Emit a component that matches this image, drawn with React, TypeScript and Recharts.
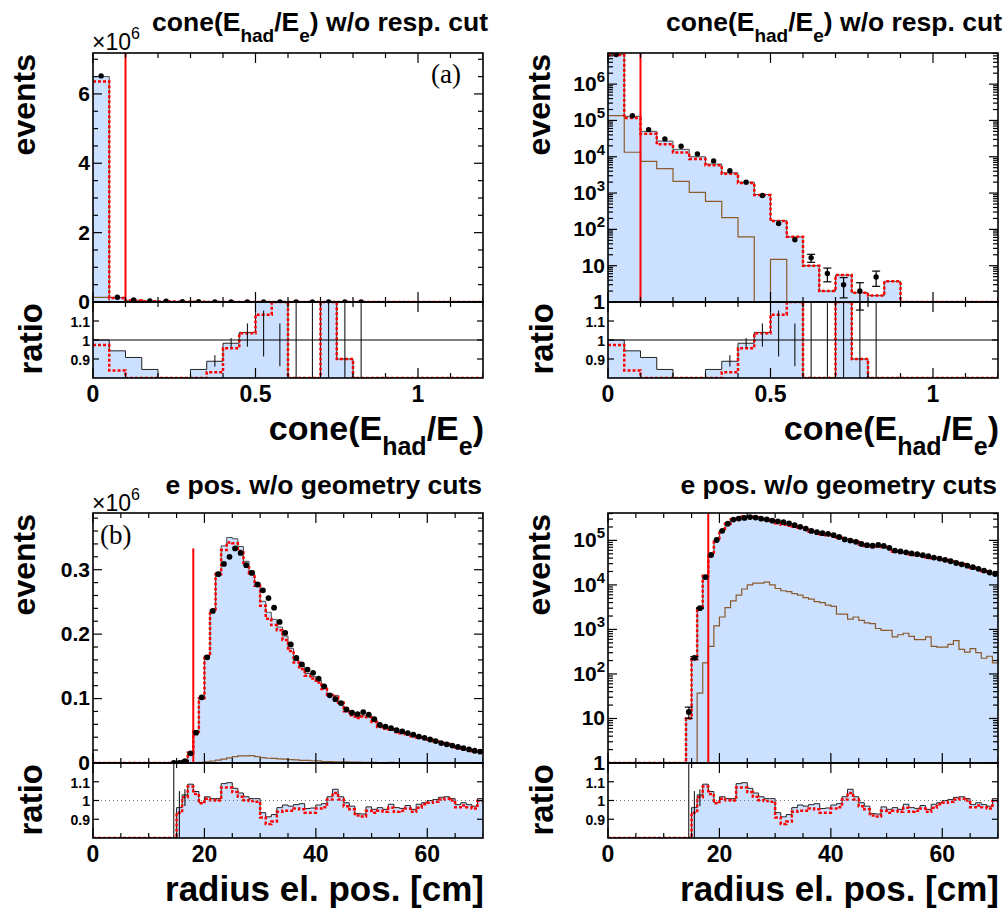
import React from "react";
import {
  ComposedChart,
  Area,
  Line,
  Scatter,
  ErrorBar,
  XAxis,
  YAxis,
  ReferenceLine,
} from "recharts";

const FONT = "'Liberation Sans', Arial, Helvetica, sans-serif";
const SERIF = "'Liberation Serif', 'DejaVu Serif', serif";
const BLUE = "#cce0ff";
const OUTLINE = "#4a4a4a";
const RED = "#ff0000";
const BROWN = "#8b5a2b";

// ---------- cone(E_had/E_e): 24 bins of 0.05 ----------
const coneEdges = [
  0, 0.05, 0.1, 0.15, 0.2, 0.25, 0.3, 0.35, 0.4, 0.45, 0.5, 0.55, 0.6, 0.65,
  0.7, 0.75, 0.8, 0.85, 0.9, 0.95, 1, 1.05, 1.1, 1.15, 1.2,
];
const coneData = [
  6520000, 135000, 56000, 31000, 19500, 12000, 7700, 4100, 2000, 860, 145, 52,
  16.5, 6.1, 3.0, 2.0, 4.9, null, null, null, null, null, null, null,
];
const coneDataErr = [
  0, 0, 0, 0, 0, 0, 0, 0, 0, 0, 0, 0, 4.1, 2.5, 1.7, 1.4, 2.2, null, null,
  null, null, null, null, null,
];
const coneMc = [
  6500000, 130000, 50000, 27000, 16000, 10000, 6300, 3600, 2000, 910, 175, 62,
  10, 2.0, 5.5, 1.8, 1.5, 3.7, 0, 0, 0, 0, 0, 0,
];
const coneAlt = [
  6360000, 116000, 43000, 22000, 13000, 8700, 5800, 3400, 1900, 890, 170, 63,
  10, 2.0, 5.5, 1.8, 1.5, 3.7, 0, 0, 0, 0, 0, 0,
];
const coneBkg = [
  135000, 13300, 7500, 4700, 2100, 1050, 590, 210, 62, 0, 15, 0, 0, 0, 0, 0, 0,
  0, 0, 0, 0, 0, 0, 0,
];
const coneRatio = [
  1.0, 0.943, 0.908, 0.845, 0.7, 0.7, 0.845, 0.888, 0.983, 1.04, 1.22, 1.25,
  0.6, 0.33, 1.8, 0.9, 0.3, 0, 0, 0, 0, 0, 0, 0,
];
const coneRatioAlt = [
  0.974, 0.84, 0.7, 0.7, 0.7, 0.7, 0.7, 0.83, 0.957, 1.035, 1.133, 1.25, 0.6,
  0.33, 1.8, 0.9, 0.3, 0, 0, 0, 0, 0, 0, 0,
];
const coneRatioErrBins = [7, 8, 9, 10, 11, 12, 13, 14, 15, 16];
const coneRatioErrLo = [0.86, 0.96, 0.965, 0.913, 0.862, 0.8, 0.8, 0.8, 0.8, 0.8];
const coneRatioErrHi = [0.92, 1.01, 1.087, 1.155, 1.087, 1.2, 1.2, 1.2, 1.2, 1.2];

const coneTicks = [0, 0.1, 0.2, 0.3, 0.4, 0.5, 0.6, 0.7, 0.8, 0.9, 1, 1.1, 1.2];
const coneMajors = [0, 0.5, 1];
const coneTickLabels = ["0", "0.5", "1"];

// ---------- radius el. pos.: 70 bins of 1 cm ----------
const radiusEdges = [
  0, 1, 2, 3, 4, 5, 6, 7, 8, 9, 10, 11, 12, 13, 14, 15, 16, 17, 18, 19, 20, 21,
  22, 23, 24, 25, 26, 27, 28, 29, 30, 31, 32, 33, 34, 35, 36, 37, 38, 39, 40,
  41, 42, 43, 44, 45, 46, 47, 48, 49, 50, 51, 52, 53, 54, 55, 56, 57, 58, 59,
  60, 61, 62, 63, 64, 65, 66, 67, 68, 69, 70,
];
const radiusData = [
  null, null, null, null, null, null, null, null, null, null, null, null, null,
  null, 14, 230, 3000, 15000, 47000, 102000, 164000, 236000, 293000, 309000,
  320000, 333000, 326000, 307000, 295000, 277000, 268000, 256000, 241000,
  219000, 202000, 184000, 163000, 153000, 145000, 140000, 131000, 119000,
  105000, 99000, 93000, 83000, 78000, 76000, 79000, 75000, 68000, 59000, 56500,
  54000, 51000, 49000, 46500, 44000, 41000, 39000, 36500, 34000, 31000, 29000,
  27000, 25000, 23000, 21000, 19000, 17500,
];
const radiusErrBins = [14, 15, 16];
const radiusErrVals = [4, 15, 55];
const radiusMc = [
  0, 0, 0, 0, 0, 0, 0, 0, 0, 0, 0, 0, 0, 0, 10.4, 220, 3090, 16300, 49300,
  101000, 167000, 238000, 296000, 337000, 350000, 348000, 336000, 313000,
  298000, 280000, 251000, 234000, 223000, 211000, 197000, 178000, 159000,
  150000, 139000, 134000, 128000, 117000, 107000, 105000, 95000, 82000, 75700,
  70700, 73300, 72500, 64800, 56800, 53800, 52900, 49100, 46900, 45200, 41900,
  40200, 38500, 36500, 34200, 31500, 29600, 27300, 24500, 22700, 20500, 18400,
  17700,
];
const radiusAlt = [
  0, 0, 0, 0, 0, 0, 0, 0, 0, 0, 0, 0, 0, 0, 10, 215, 3050, 16100, 48600,
  100500, 165600, 236500, 293000, 330600, 342400, 341000, 329000, 307600,
  294000, 275000, 244000, 224000, 214000, 206000, 191000, 174000, 156000,
  146000, 135600, 131000, 125000, 114700, 105500, 103000, 93500, 80500, 74300,
  69900, 72300, 70900, 63600, 55800, 53100, 51900, 47900, 46300, 44500, 41400,
  39400, 38200, 36100, 33800, 31200, 29300, 27000, 24100, 22400, 20200, 18200,
  17400,
];
const radiusBkg = [
  0, 0, 0, 0, 0, 0, 0, 0, 0, 0, 0, 0, 0, 0, 0, 0, 37, 178, 415, 1200, 1900,
  3100, 4400, 5900, 8100, 10000, 11000, 11000, 11500, 10000, 8300, 7400, 7100,
  6400, 5900, 5200, 4800, 4200, 4000, 3500, 3300, 2200, 2200, 1700, 1900, 1600,
  1400, 1350, 1050, 950, 950, 680, 760, 820, 700, 590, 590, 680, 415, 400, 400,
  460, 560, 355, 310, 370, 300, 225, 250, 178,
];
const radiusRatio = [
  0, 0, 0, 0, 0, 0, 0, 0, 0, 0, 0, 0, 0, 0, 0.74, 0.962, 1.03, 1.087, 1.048,
  0.99, 1.02, 1.01, 1.01, 1.09, 1.095, 1.065, 1.04, 1.02, 1.01, 1.01, 0.935,
  0.913, 0.925, 0.962, 0.976, 0.97, 0.978, 0.983, 0.957, 0.96, 0.976, 0.983,
  1.02, 1.06, 1.02, 0.988, 0.97, 0.93, 0.928, 0.966, 0.953, 0.962, 0.953, 0.98,
  0.962, 0.958, 0.973, 0.953, 0.98, 0.988, 1.0, 1.005, 1.017, 1.02, 1.01,
  0.978, 0.988, 0.978, 0.97, 1.01,
];
const radiusRatioAlt = [
  0, 0, 0, 0, 0, 0, 0, 0, 0, 0, 0, 0, 0, 0, 0.72, 0.935, 1.017, 1.075, 1.035,
  0.985, 1.01, 1.002, 1.0, 1.07, 1.07, 1.045, 1.02, 1.002, 0.997, 0.993, 0.91,
  0.875, 0.888, 0.94, 0.945, 0.945, 0.957, 0.953, 0.935, 0.935, 0.957, 0.964,
  1.005, 1.04, 1.005, 0.97, 0.953, 0.92, 0.915, 0.945, 0.935, 0.945, 0.94,
  0.962, 0.94, 0.945, 0.957, 0.94, 0.962, 0.98, 0.988, 0.993, 1.005, 1.01, 1.0,
  0.964, 0.974, 0.964, 0.957, 0.997,
];
const radiusRatioErrBins = [14, 15, 16];
const radiusRatioErrLo = [0.8, 0.8, 0.97];
const radiusRatioErrHi = [1.2, 1.05, 1.06];

const radiusMajors = [0, 20, 40, 60];
const radiusTickLabels = ["0", "20", "40", "60"];

const coneLinMajors = [0, 2000000, 4000000, 6000000];
const coneLinLabels = ["0", "2", "4", "6"];
const radiusLinMajors = [0, 100000, 200000, 300000];
const radiusLinLabels = ["0", "0.1", "0.2", "0.3"];
const ratioTicks = [0.9, 1, 1.1];
const ratioLabels = ["0.9", "1", "1.1"];

// ---------- helpers ----------
const range = (a: number, b: number, s: number) => {
  const out: number[] = [];
  for (let v = a; v <= b + s * 1e-6; v += s) out.push(+v.toFixed(6));
  return out;
};
const logTicks = (maxV: number) => {
  const out: number[] = [];
  for (let d = 1; d <= maxV; d *= 10)
    for (let m = 1; m <= 9; m++) if (m * d <= maxV) out.push(m * d);
  return out;
};
const near = (a: number, b: number) =>
  Math.abs(a - b) <= 1e-7 * Math.max(1, Math.abs(a));

const logLabel = (v: number) => {
  const e = Math.round(Math.log10(v));
  if (e === 0) return "1";
  if (e === 1) return "10";
  return (
    <>
      10
      <tspan dy={-9} fontSize={15}>
        {e}
      </tspan>
    </>
  );
};

const xTick =
  (plotH: number, majors: number[], labels: string[] | null) => (p: any) => {
    const v = p.payload.value;
    const k = majors.findIndex((m) => near(m, v));
    const len = k >= 0 ? 10 : 5;
    return (
      <g>
        <line x1={p.x} x2={p.x} y1={p.y} y2={p.y - len} stroke="#000" strokeWidth={1.2} />
        <line x1={p.x} x2={p.x} y1={p.y - plotH} y2={p.y - plotH + len} stroke="#000" strokeWidth={1.2} />
        {labels && k >= 0 ? (
          <text x={p.x} y={p.y + 24} textAnchor="middle" fontFamily={FONT} fontWeight="bold" fontSize={23}>
            {labels[k]}
          </text>
        ) : null}
      </g>
    );
  };

const yTick =
  (
    plotW: number,
    majors: number[],
    label: (v: number, k: number) => React.ReactNode,
    fontSize: number,
    dyFrac: number,
    majLen: number,
    minLen: number
  ) =>
  (p: any) => {
    const v = p.payload.value;
    const k = majors.findIndex((m) => near(m, v));
    const len = k >= 0 ? majLen : minLen;
    return (
      <g>
        <line x1={p.x} x2={p.x + len} y1={p.y} y2={p.y} stroke="#000" strokeWidth={1.2} />
        <line x1={p.x + plotW} x2={p.x + plotW - len} y1={p.y} y2={p.y} stroke="#000" strokeWidth={1.2} />
        {k >= 0 ? (
          <text x={p.x - 3} y={p.y} dy={fontSize * dyFrac} textAnchor="end" fontFamily={FONT} fontWeight="bold" fontSize={fontSize}>
            {label(v, k)}
          </text>
        ) : null}
      </g>
    );
  };

type Cfg = {
  frameL: number;
  frameT: number;
  plotW: number;
  mainH: number;
  ratioH: number;
  edges: number[];
  xTicks: number[];
  xMajors: number[];
  xLabels: string[];
  log: boolean;
  yDomain: [number, number];
  yTicks: number[];
  yMajors: number[];
  yLabel: (v: number, k: number) => React.ReactNode;
  data: (number | null)[];
  dataErr: (number | null)[];
  mc: number[];
  alt: number[];
  bkg: number[];
  ratio: number[];
  ratioAlt: number[];
  rErrBins: number[];
  rErrLo: number[];
  rErrHi: number[];
  cutX: number;
  cutTop: number | null;
  dotR: number;
  unityDotted: boolean;
};

const YW = 90;

function Panel({ cfg }: { cfg: Cfg }) {
  const n = cfg.mc.length;
  const xDomain: [number, number] = [cfg.edges[0], cfg.edges[n]];
  const f = (v: number) => (cfg.log ? (v > 1 ? v : 1) : v);
  const clampR = (v: number) => Math.min(1.2, Math.max(0.8, v));
  const mainRows = cfg.edges.map((x, i) => {
    const j = Math.min(i, n - 1);
    return { x, mc: f(cfg.mc[j]), alt: f(cfg.alt[j]), bkg: f(cfg.bkg[j]) };
  });
  const ratioRows = cfg.edges.map((x, i) => {
    const j = Math.min(i, n - 1);
    return { x, r: clampR(cfg.ratio[j]), ra: clampR(cfg.ratioAlt[j]) };
  });
  const center = (i: number) => (cfg.edges[i] + cfg.edges[i + 1]) / 2;
  const pts = cfg.data
    .map((y, i) => ({ x: center(i), y, e: cfg.dataErr[i] ?? 0 }))
    .filter((p) => p.y !== null && (p.y as number) > 0);
  const rErr = cfg.rErrBins.map((b, k) => ({
    x: center(b),
    y: (cfg.rErrLo[k] + cfg.rErrHi[k]) / 2,
    e: (cfg.rErrHi[k] - cfg.rErrLo[k]) / 2,
  }));

  return (
    <>
      <div style={{ position: "absolute", left: cfg.frameL - YW, top: cfg.frameT }}>
        <ComposedChart
          width={YW + cfg.plotW}
          height={cfg.mainH + 14}
          data={mainRows}
          margin={{ top: 0, right: 0, bottom: 0, left: 0 }}
        >
          <XAxis
            type="number"
            dataKey="x"
            domain={xDomain}
            ticks={cfg.xTicks}
            interval={0}
            tickSize={0}
            tickMargin={0}
            axisLine={false}
            tickLine={false}
            height={14}
            allowDataOverflow
            tick={xTick(cfg.mainH, cfg.xMajors, null)}
          />
          <YAxis
            type="number"
            scale={cfg.log ? "log" : "linear"}
            domain={cfg.yDomain}
            ticks={cfg.yTicks}
            interval={0}
            tickSize={0}
            tickMargin={0}
            axisLine={false}
            tickLine={false}
            width={YW}
            allowDataOverflow
            tick={yTick(cfg.plotW, cfg.yMajors, cfg.yLabel, 21, 0.33, 9, 5)}
          />
          <Area
            type="stepAfter"
            dataKey="mc"
            fill={BLUE}
            fillOpacity={1}
            stroke={OUTLINE}
            strokeWidth={1}
            dot={false}
            activeDot={false}
            isAnimationActive={false}
          />
          <Line
            type="stepAfter"
            dataKey="bkg"
            stroke={BROWN}
            strokeWidth={1.2}
            dot={false}
            activeDot={false}
            isAnimationActive={false}
          />
          <Line
            type="stepAfter"
            dataKey="alt"
            stroke={RED}
            strokeWidth={2.5}
            strokeDasharray="3 2"
            dot={false}
            activeDot={false}
            isAnimationActive={false}
          />
          {cfg.cutTop === null ? (
            <ReferenceLine x={cfg.cutX} stroke={RED} strokeWidth={2} />
          ) : (
            <ReferenceLine
              segment={[
                { x: cfg.cutX, y: cfg.yDomain[0] },
                { x: cfg.cutX, y: cfg.cutTop },
              ]}
              stroke={RED}
              strokeWidth={2}
            />
          )}
          <Scatter
            data={pts}
            dataKey="y"
            isAnimationActive={false}
            shape={(p: any) => <circle cx={p.cx} cy={p.cy} r={cfg.dotR} fill="#000" />}
          >
            <ErrorBar dataKey="e" direction="y" width={4} stroke="#000" strokeWidth={1.2} />
          </Scatter>
        </ComposedChart>
      </div>
      <div
        style={{
          position: "absolute",
          left: cfg.frameL - YW,
          top: cfg.frameT + cfg.mainH,
        }}
      >
        <ComposedChart
          width={YW + cfg.plotW}
          height={cfg.ratioH + 34}
          data={ratioRows}
          margin={{ top: 0, right: 0, bottom: 0, left: 0 }}
        >
          <XAxis
            type="number"
            dataKey="x"
            domain={xDomain}
            ticks={cfg.xTicks}
            interval={0}
            tickSize={0}
            tickMargin={0}
            axisLine={false}
            tickLine={false}
            height={34}
            allowDataOverflow
            tick={xTick(cfg.ratioH, cfg.xMajors, cfg.xLabels)}
          />
          <YAxis
            type="number"
            domain={[0.8, 1.2]}
            ticks={ratioTicks}
            interval={0}
            tickSize={0}
            tickMargin={0}
            axisLine={false}
            tickLine={false}
            width={YW}
            allowDataOverflow
            tick={yTick(cfg.plotW, ratioTicks, (_v, k) => ratioLabels[k], 14, 0.42, 6, 6)}
          />
          <Area
            type="stepAfter"
            dataKey="r"
            fill={BLUE}
            fillOpacity={1}
            stroke="#222"
            strokeWidth={1}
            dot={false}
            activeDot={false}
            isAnimationActive={false}
          />
          <Line
            type="stepAfter"
            dataKey="ra"
            stroke={RED}
            strokeWidth={2.5}
            strokeDasharray="3 2"
            dot={false}
            activeDot={false}
            isAnimationActive={false}
          />
          <ReferenceLine
            y={1}
            stroke={cfg.unityDotted ? "#777" : "#000"}
            strokeWidth={1}
            strokeDasharray={cfg.unityDotted ? "1 3" : undefined}
          />
          <Scatter
            data={rErr}
            dataKey="y"
            isAnimationActive={false}
            shape={() => <g />}
          >
            <ErrorBar dataKey="e" direction="y" width={0} stroke="#000" strokeWidth={1} />
          </Scatter>
        </ComposedChart>
      </div>
    </>
  );
}

const coneBase = {
  plotW: 390,
  mainH: 249,
  ratioH: 76,
  frameT: 53,
  edges: coneEdges,
  xTicks: coneTicks,
  xMajors: coneMajors,
  xLabels: coneTickLabels,
  data: coneData,
  dataErr: coneDataErr,
  mc: coneMc,
  alt: coneAlt,
  bkg: coneBkg,
  ratio: coneRatio,
  ratioAlt: coneRatioAlt,
  rErrBins: coneRatioErrBins,
  rErrLo: coneRatioErrLo,
  rErrHi: coneRatioErrHi,
  cutX: 0.1,
  cutTop: null,
  dotR: 2.7,
  unityDotted: false,
};

const radiusBase = {
  plotW: 390,
  mainH: 250,
  ratioH: 75,
  frameT: 513,
  edges: radiusEdges,
  xTicks: range(0, 70, 5),
  xMajors: radiusMajors,
  xLabels: radiusTickLabels,
  data: radiusData,
  dataErr: radiusData.map((_, i) => {
    const k = radiusErrBins.indexOf(i);
    return k >= 0 ? radiusErrVals[k] : 0;
  }),
  mc: radiusMc,
  alt: radiusAlt,
  bkg: radiusBkg,
  ratio: radiusRatio,
  ratioAlt: radiusRatioAlt,
  rErrBins: radiusRatioErrBins,
  rErrLo: radiusRatioErrLo,
  rErrHi: radiusRatioErrHi,
  dotR: 2.9,
  unityDotted: true,
};

const panels: Cfg[] = [
  {
    ...coneBase,
    frameL: 93,
    log: false,
    yDomain: [0, 7180000],
    yTicks: range(0, 7000000, 500000),
    yMajors: coneLinMajors,
    yLabel: (_v, k) => coneLinLabels[k],
  },
  {
    ...coneBase,
    frameL: 608,
    log: true,
    yDomain: [1, 7200000],
    yTicks: logTicks(7200000),
    yMajors: [1, 10, 100, 1000, 10000, 100000, 1000000],
    yLabel: (v) => logLabel(v),
  },
  {
    ...radiusBase,
    frameL: 93,
    log: false,
    yDomain: [0, 388000],
    yTicks: range(0, 380000, 20000),
    yMajors: radiusLinMajors,
    yLabel: (_v, k) => radiusLinLabels[k],
    cutX: 18,
    cutTop: 333000,
  },
  {
    ...radiusBase,
    frameL: 608,
    log: true,
    yDomain: [1, 412000],
    yTicks: logTicks(412000),
    yMajors: [1, 10, 100, 1000, 10000, 100000],
    yLabel: (v) => logLabel(v),
    cutX: 18,
    cutTop: null,
  },
];

const Cone = ({ sub, shift }: { sub: number; shift: number }) => (
  <>
    cone(E
    <tspan fontSize={sub} dy={shift}>
      had
    </tspan>
    <tspan dy={-shift}>/E</tspan>
    <tspan fontSize={sub} dy={shift}>
      e
    </tspan>
    <tspan dy={-shift}>)</tspan>
  </>
);

const txt = { fontFamily: FONT, fontWeight: "bold" as const, fill: "#000" };

function Overlay() {
  const frames = [
    [93, 53, 390, 249],
    [93, 302, 390, 76],
    [608, 53, 390, 249],
    [608, 302, 390, 76],
    [93, 513, 390, 250],
    [93, 763, 390, 75],
    [608, 513, 390, 250],
    [608, 763, 390, 75],
  ];
  return (
    <svg
      width={1008}
      height={913}
      style={{ position: "absolute", left: 0, top: 0, pointerEvents: "none", whiteSpace: "pre" }}
    >
      {frames.map(([x, y, w, h], i) => (
        <rect key={i} x={x} y={y} width={w} height={h} fill="none" stroke="#000" strokeWidth={1.6} />
      ))}
      {/* titles */}
      <text x={488} y={31} textAnchor="end" fontSize={26.5} {...txt}>
        <Cone sub={19} shift={11} />
        <tspan>{" w/o resp. cut"}</tspan>
      </text>
      <text x={1002} y={31} textAnchor="end" fontSize={26.5} {...txt}>
        <Cone sub={19} shift={11} />
        <tspan>{" w/o resp. cut"}</tspan>
      </text>
      <text x={482} y={494} textAnchor="end" fontSize={26.5} {...txt}>
        e pos. w/o geometry cuts
      </text>
      <text x={997} y={494} textAnchor="end" fontSize={26.5} {...txt}>
        e pos. w/o geometry cuts
      </text>
      {/* multipliers */}
      <text x={92} y={50} fontSize={23} fontFamily={FONT}>
        ×10<tspan dy={-11} fontSize={16}>6</tspan>
      </text>
      <text x={92} y={511} fontSize={23} fontFamily={FONT}>
        ×10<tspan dy={-11} fontSize={16}>6</tspan>
      </text>
      <text x={431} y={83} fontSize={27} fontFamily={SERIF}>
        (a)
      </text>
      <text x={100} y={544} fontSize={27} fontFamily={SERIF}>
        (b)
      </text>
      {/* y titles */}
      {[
        [35, 54, "events"],
        [550, 54, "events"],
        [35, 514, "events"],
        [550, 514, "events"],
      ].map(([x, y, s], i) => (
        <text
          key={"e" + i}
          x={x as number}
          y={y as number}
          textAnchor="end"
          fontSize={32}
          transform={`rotate(-90 ${x} ${y})`}
          {...txt}
        >
          {s}
        </text>
      ))}
      {[
        [42, 303],
        [553, 303],
        [42, 764],
        [553, 764],
      ].map(([x, y], i) => (
        <text
          key={"r" + i}
          x={x}
          y={y}
          textAnchor="end"
          fontSize={33}
          transform={`rotate(-90 ${x} ${y})`}
          {...txt}
        >
          ratio
        </text>
      ))}
      {/* x titles */}
      <text x={484} y={440} textAnchor="end" fontSize={34} {...txt}>
        <Cone sub={25} shift={15} />
      </text>
      <text x={999} y={440} textAnchor="end" fontSize={34} {...txt}>
        <Cone sub={25} shift={15} />
      </text>
      <text x={484} y={901} textAnchor="end" fontSize={35} {...txt}>
        radius el. pos. [cm]
      </text>
      <text x={999} y={901} textAnchor="end" fontSize={35} {...txt}>
        radius el. pos. [cm]
      </text>
    </svg>
  );
}

export default function App() {
  return (
    <div
      style={{
        position: "absolute",
        left: 0,
        top: 0,
        width: 1008,
        height: 913,
        background: "#fff",
        overflow: "hidden",
      }}
    >
      {panels.map((cfg, i) => (
        <Panel key={i} cfg={cfg} />
      ))}
      <Overlay />
    </div>
  );
}
